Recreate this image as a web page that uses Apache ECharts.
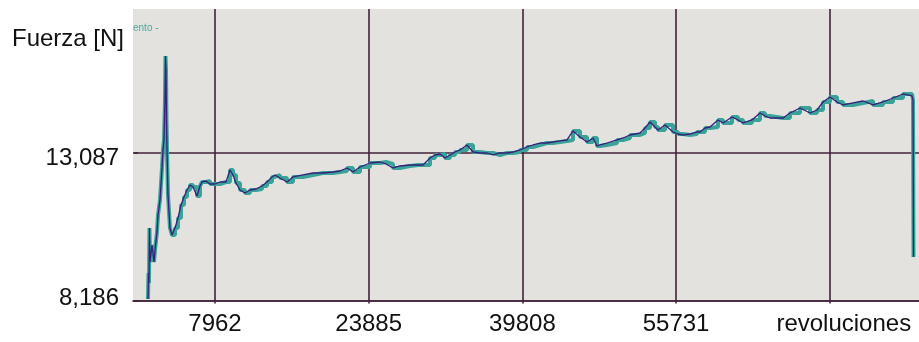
<!DOCTYPE html>
<html>
<head>
<meta charset="utf-8">
<script src="https://cdn.jsdelivr.net/npm/echarts@6/dist/echarts.min.js"></script>
<style>
  html, body { margin: 0; padding: 0; background: #ffffff; }
  #chart { width: 919px; height: 342px; }
</style>
</head>
<body>
<div id="chart"></div>
<script>
// Revolutions (x) and measured force in newtons (y)
const revoluciones = [
  1021, 1071, 1124, 1176, 1228, 1435, 1642, 1746, 1953, 2057, 2264, 2471, 2575, 2678,
  2782, 2834, 2886, 2937, 2989, 3093, 3300, 3507, 3818, 4129, 4440, 4750, 5061, 5372,
  5683, 6097, 6408, 6615, 7030, 7444, 7962, 8480, 9102, 9516, 9827, 10138, 10552, 11070,
  11588, 12210, 12832, 13349, 13867, 14178, 14696, 15421, 16043, 17079, 18115, 19151,
  20187, 20912, 21639, 22259, 22984, 24020, 25056, 25678, 26403, 27128, 28164, 28993,
  29511, 30236, 30754, 31272, 31790, 32308, 32826, 33344, 34069, 34691, 35416, 36141,
  36763, 37488, 38213, 38835, 39560, 40285, 40907, 41632, 42357, 42979, 43704, 44429,
  45051, 45776, 46501, 47123, 47537, 47848, 48573, 49609, 50229, 50956, 51992, 52510,
  53028, 53546, 53857, 54582, 55411, 55929, 56447, 57172, 57897, 58208, 58726, 59244,
  60073, 60591, 61523, 62145, 62663, 63595, 64424, 64942, 65460, 66809, 67532, 68568,
  69604, 70329, 70951, 71676, 72401, 73023, 74059, 75095, 76131, 77167, 78203, 79239,
  80171, 80275, 80327
];
const fuerza = [
  8236, 9097, 8766, 10587, 9461, 10024, 9461, 9858, 10454, 11017, 11514, 12574, 13170, 13501,
  14825, 16282, 15818, 14163, 13170, 11680, 10587, 10355, 10587, 10918, 11348, 11613, 11845, 12011,
  11944, 11646, 11978, 12110, 12143, 12044, 12044, 12110, 12110, 12507, 12342, 12077, 11845, 11746,
  11845, 11878, 11978, 12110, 12276, 12342, 12243, 12110, 12276, 12342, 12408, 12408,
  12441, 12474, 12574, 12441, 12607, 12739, 12772, 12706, 12574, 12640, 12673, 12673,
  12673, 12905, 13004, 13037, 12905, 13004, 13103, 13170, 13335, 13103, 13070, 13070,
  13004, 13070, 13070, 13103, 13170, 13269, 13335, 13401, 13401, 13434, 13468, 13501,
  13799, 13600, 13434, 13567, 13302, 13335, 13401, 13501, 13567, 13666, 13732, 13898,
  14097, 13931, 13832, 13997, 13766, 13699, 13666, 13699, 13766, 13766, 13898, 13931,
  14163, 14064, 14262, 14163, 14064, 14163, 14395, 14295, 14229, 14229, 14395, 14560,
  14395, 14494, 14759, 14924, 14759, 14660, 14726, 14792, 14660, 14759, 14891, 15024,
  14958, 14826, 9627
];

// Axis ticks and their labels
const xTicks = [7962, 23885, 39808, 55731, 71654];
const xTickLabels = ['7962', '23885', '39808', '55731', 'revoluciones'];
const yTicks = [8186, 13087];
const yTickLabels = ['8,186', '13,087'];

const xRange = [-533, 80896];
const yRange = [8186, 17838];

const points = revoluciones.map((r, i) => [r, fuerza[i]]);

// The unit label sits a little right of the last grid line
const xLabelValues = xTicks.map((v, i) => i === xTicks.length - 1 ? v + 1450 : v);

const gridColor = '#42223a';
const textFont = '"Liberation Sans", Arial, sans-serif';

const chart = echarts.init(document.getElementById('chart'), null, { renderer: 'canvas' });
chart.setOption({
  animation: false,
  backgroundColor: '#ffffff',
  grid: {
    left: 133, right: 0, top: 9, bottom: 41.5,
    show: true, backgroundColor: '#e3e2df', borderWidth: 0
  },
  graphic: [
    {
      type: 'text', left: 12, top: 27,
      style: { text: 'Fuerza [N]', font: '24px ' + textFont, fill: '#111111' }
    },
    {
      type: 'text', left: 133, top: 23,
      style: { text: 'ento -', font: '10px ' + textFont, fill: '#4aa9a0' }
    }
  ],
  xAxis: {
    type: 'value',
    min: xRange[0], max: xRange[1],
    axisLine: { show: true, onZero: false, lineStyle: { color: gridColor, width: 1.6 } },
    axisTick: { show: true, length: 3, customValues: xTicks, lineStyle: { color: gridColor, width: 1.6 } },
    splitLine: { show: true, lineStyle: { color: gridColor, width: 1.6 } },
    axisLabel: {
      customValues: xLabelValues,
      margin: 12,
      fontSize: 24,
      fontFamily: textFont,
      color: '#111111',
      formatter: (v) => xTickLabels[xLabelValues.indexOf(v)]
    }
  },
  yAxis: {
    type: 'value',
    min: yRange[0], max: yRange[1],
    axisLine: { show: false },
    axisTick: { show: true, length: 4, customValues: yTicks, lineStyle: { color: gridColor, width: 1.6 } },
    splitLine: { show: true, lineStyle: { color: gridColor, width: 1.6 } },
    axisLabel: {
      customValues: yTicks,
      margin: 14,
      fontSize: 24,
      fontFamily: textFont,
      color: '#111111',
      formatter: (v) => {
        const i = yTicks.indexOf(v);
        return i === 1 ? '{lo|' + yTickLabels[i] + '}' : '{hi|' + yTickLabels[i] + '}';
      },
      rich: {
        lo: { fontSize: 24, fontFamily: textFont, color: '#111111', padding: [12, 0, 0, 0] },
        hi: { fontSize: 24, fontFamily: textFont, color: '#111111', padding: [0, 0, 4, 0] }
      }
    }
  },
  series: [
    {
      // stepped teal trace
      type: 'line',
      data: points,
      step: 'end',
      showSymbol: false,
      z: 2,
      lineStyle: { color: '#3aa399', width: 4 }
    },
    {
      // thin dark sample trace on top
      type: 'line',
      data: points,
      showSymbol: false,
      z: 3,
      lineStyle: { color: '#35207a', width: 1.3 }
    }
  ]
});
</script>
</body>
</html>
